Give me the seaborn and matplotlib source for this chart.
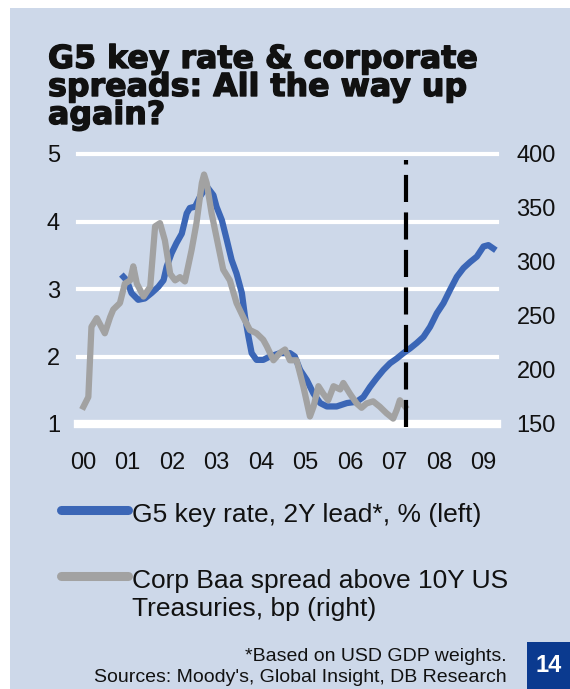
import matplotlib
matplotlib.use("Agg")
import matplotlib.pyplot as plt
import matplotlib.patheffects as pe
from matplotlib.lines import Line2D
from matplotlib.patches import Rectangle
import seaborn as sns

# G5 key rate, 2Y lead (% , left axis)
blue_t = [2000.91, 2000.98, 2001.09, 2001.24, 2001.39, 2001.54, 2001.69, 2001.81, 2001.88, 2001.99,
          2002.10, 2002.22, 2002.33, 2002.40, 2002.52, 2002.63, 2002.78, 2002.93, 2003.00, 2003.12,
          2003.23, 2003.34, 2003.45, 2003.57, 2003.64, 2003.72, 2003.79, 2003.90, 2004.05, 2004.20,
          2004.43, 2004.65, 2004.76, 2004.88, 2005.03, 2005.18, 2005.33, 2005.48, 2005.70, 2005.93,
          2006.15, 2006.30, 2006.45, 2006.60, 2006.75, 2006.90, 2007.05, 2007.20, 2007.35, 2007.50,
          2007.65, 2007.80, 2007.95, 2008.10, 2008.25, 2008.40, 2008.55, 2008.70, 2008.85, 2009.00,
          2009.11, 2009.22]
blue_v = [3.18, 3.13, 2.94, 2.84, 2.86, 2.94, 3.03, 3.13, 3.33, 3.53,
          3.68, 3.82, 4.12, 4.20, 4.22, 4.37, 4.52, 4.39, 4.22, 4.02,
          3.73, 3.43, 3.23, 2.94, 2.59, 2.29, 2.05, 1.95, 1.95, 2.00,
          2.05, 2.05, 2.00, 1.80, 1.65, 1.45, 1.31, 1.26, 1.26, 1.31,
          1.33, 1.40, 1.55, 1.68, 1.80, 1.90, 1.97, 2.05, 2.12, 2.20,
          2.29, 2.44, 2.64, 2.79, 2.99, 3.18, 3.31, 3.40, 3.48, 3.63,
          3.65, 3.60]

# Corp Baa spread above 10Y UST (bp, right axis)
gray_t = [2000.01, 2000.12, 2000.19, 2000.31, 2000.49, 2000.61, 2000.68, 2000.83, 2000.94, 2001.06,
          2001.13, 2001.21, 2001.36, 2001.51, 2001.62, 2001.73, 2001.84, 2001.96, 2002.07, 2002.18,
          2002.29, 2002.44, 2002.55, 2002.67, 2002.72, 2002.78, 2002.89, 2003.00, 2003.15, 2003.30,
          2003.45, 2003.60, 2003.75, 2003.90, 2004.05, 2004.13, 2004.28, 2004.43, 2004.54, 2004.65,
          2004.80, 2004.95, 2005.10, 2005.18, 2005.29, 2005.40, 2005.51, 2005.63, 2005.78, 2005.85,
          2006.00, 2006.15, 2006.26, 2006.37, 2006.52, 2006.67, 2006.82, 2006.97, 2007.05, 2007.12,
          2007.24]
gray_v = [166, 175, 240, 248, 234, 249, 256, 262, 280, 283,
          296, 280, 268, 277, 333, 336, 320, 289, 283, 286,
          282, 311, 336, 373, 381, 373, 345, 323, 293, 283,
          262, 249, 237, 234, 228, 222, 209, 216, 219, 209,
          209, 185, 157, 166, 185, 178, 172, 185, 182, 188,
          178, 169, 165, 169, 171, 166, 160, 155, 163, 172,
          166]

year_ticks = [2000, 2001, 2002, 2003, 2004, 2005, 2006, 2007, 2008, 2009]
year_labels = ["00", "01", "02", "03", "04", "05", "06", "07", "08", "09"]
left_ticks = [1, 2, 3, 4, 5]
right_ticks = [150, 200, 250, 300, 350, 400]
cutoff = 2007.25

title_lines = ["G5 key rate & corporate", "spreads: All the way up", "again?"]
label_blue = "G5 key rate, 2Y lead*, % (left)"
label_gray = ["Corp Baa spread above 10Y US", "Treasuries, bp (right)"]
footnote = ["*Based on USD GDP weights.", "Sources: Moody's, Global Insight, DB Research"]
page_no = "14"

BG = "#cdd8e9"
BLUE = "#3b66b6"
GRAY = "#a2a2a2"
INK = "#111111"

plt.rcParams['font.family'] = ['Liberation Sans', 'DejaVu Sans']

W, H = 570, 689
fig = plt.figure(figsize=(W / 100, H / 100), dpi=100, facecolor="white")


def fx(px):
    return px / W


def fy(py):
    return 1 - py / H


# light blue panel
fig.add_artist(Rectangle((fx(10), 0), 1, fy(8), transform=fig.transFigure,
                         facecolor=BG, edgecolor="none", zorder=0))

ax = fig.add_axes([fx(78), fy(424), (497 - 78) / W, (424 - 154) / H])
ax.set_facecolor("none")
ax2 = ax.twinx()

for spine in list(ax.spines.values()) + list(ax2.spines.values()):
    spine.set_visible(False)

# white gridlines (left axis)
for v in left_ticks:
    ax.axhline(v, color="white", lw=6 if v == 1 else 3, zorder=1, clip_on=False)

sns.lineplot(x=blue_t, y=blue_v, ax=ax, color=BLUE, linewidth=4.5, zorder=3)
sns.lineplot(x=gray_t, y=gray_v, ax=ax2, color=GRAY, linewidth=4.5, zorder=3)
for line in ax.lines + ax2.lines:
    line.set_clip_on(False)
    line.set_solid_joinstyle("round")

ax2.axvline(cutoff, ymin=-0.012, ymax=0.978, color="black", lw=3,
            dashes=(6.5, 2.5), zorder=5, clip_on=False)

ax.set_xlim(2000 - 5 / 44.5, 2000 + (497 - 83) / 44.5)
ax.set_ylim(1, 5)
ax2.set_ylim(150, 400)
ax.set_xticks(year_ticks)
ax.set_xticklabels(year_labels)
ax.set_yticks(left_ticks)
ax2.set_yticks(right_ticks)
ax.set_xlabel("")
ax.set_ylabel("")
ax2.set_ylabel("")
ax.tick_params(axis="x", length=0, pad=20, labelsize=17, labelcolor=INK)
ax.tick_params(axis="y", length=0, pad=13, labelsize=17, labelcolor=INK)
ax2.tick_params(axis="y", length=0, pad=14, labelsize=17, labelcolor=INK)
ax.grid(False)
ax2.grid(False)

# title, one line at a time so the baselines sit where they should
for i, txt in enumerate(title_lines):
    fig.text(fx(48), fy(68 + 28 * i), txt, ha="left", va="baseline", fontsize=22.8,
             family="DejaVu Sans", fontweight="bold", color=INK,
             path_effects=[pe.withStroke(linewidth=1.0, foreground=INK)])

# legend
for y, col in [(510, BLUE), (576, GRAY)]:
    fig.add_artist(Line2D([fx(61), fx(128)], [fy(y), fy(y)], color=col,
                          lw=6.5, solid_capstyle="round", transform=fig.transFigure))
fig.text(fx(132), fy(522), label_blue, ha="left", va="baseline", fontsize=19, color=INK)
for i, txt in enumerate(label_gray):
    fig.text(fx(132), fy(588 + 28 * i), txt, ha="left", va="baseline", fontsize=19, color=INK)

# footnote
for i, txt in enumerate(footnote):
    fig.text(fx(507), fy(661 + 21 * i), txt, ha="right", va="baseline", fontsize=14, color=INK)

# page number box
fig.add_artist(Rectangle((fx(527), 0), (W - 527) / W, 47 / H, transform=fig.transFigure,
                         facecolor="#0b3a8f", edgecolor="none"))
fig.text(fx(549), fy(666), page_no, ha="center", va="center", fontsize=17,
         fontweight="bold", color="white")

fig.savefig("out.png", dpi=100, facecolor="white")
